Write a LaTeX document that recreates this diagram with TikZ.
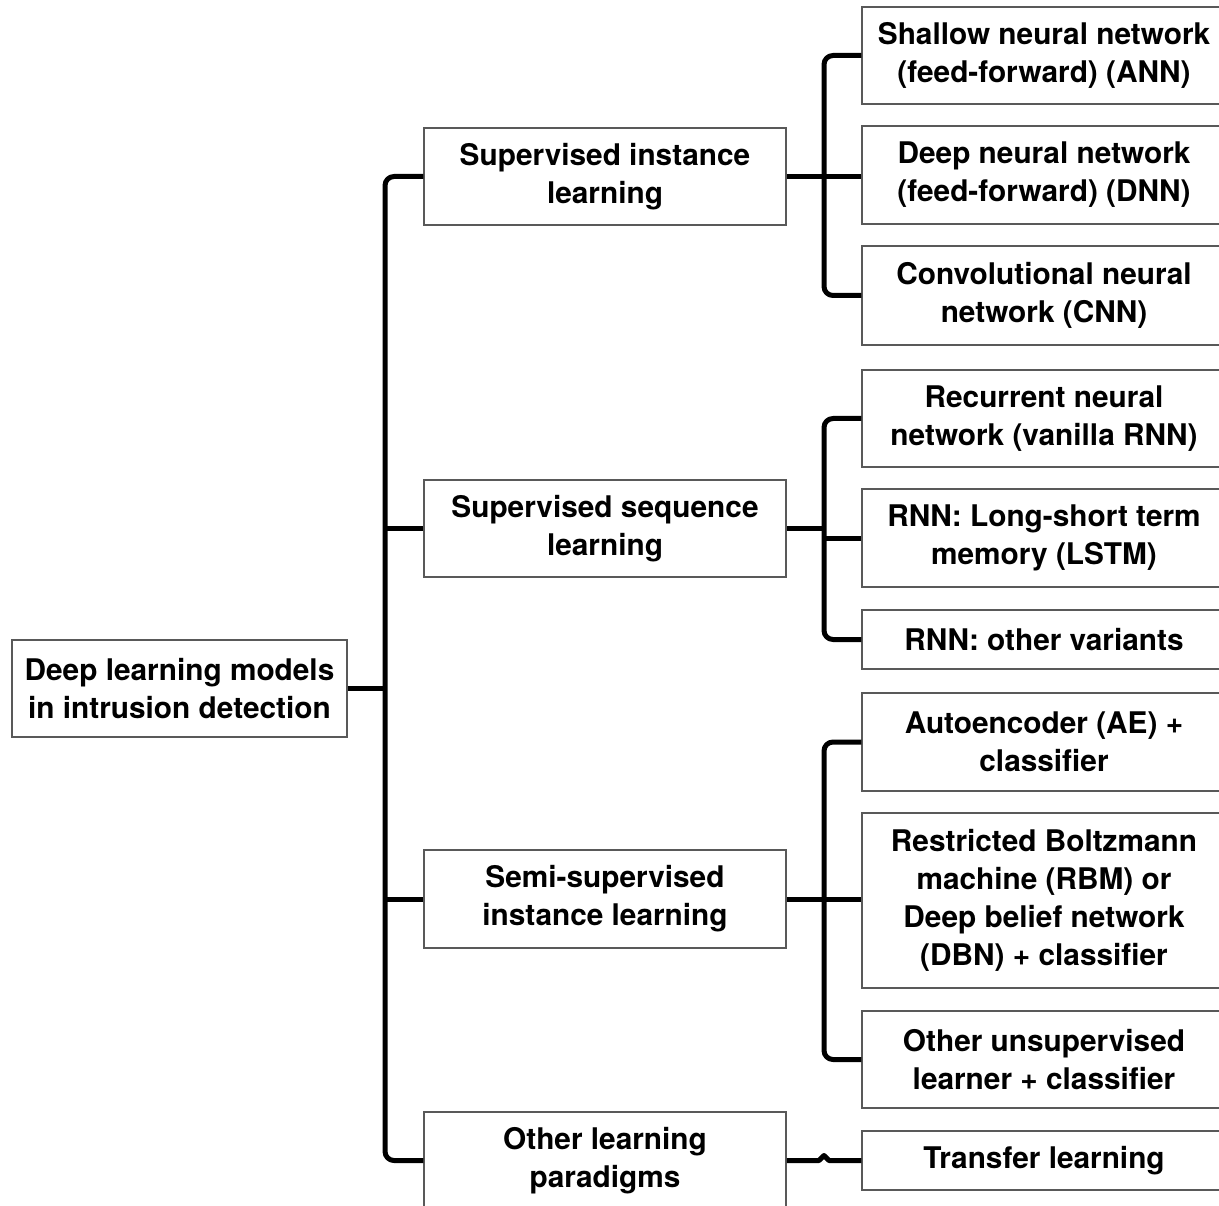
\documentclass[tikz,border=0pt]{standalone}
\usepackage{fontspec}
\setmainfont{TeX Gyre Heros}
\usetikzlibrary{calc}
\begin{document}
\begin{tikzpicture}[x=1pt,y=-1pt,
  box/.style={draw=black!65, line width=1.5pt, fill=white, align=center, inner sep=0pt,
    font=\fontsize{29.8}{38}\selectfont\bfseries},
  lone/.style={box, minimum width=362pt},
  leaf/.style={box, minimum width=364pt},
  conn/.style={line width=5pt, line join=round, line cap=butt, rounded corners=9pt}]
\clip (0,0) rectangle (1219,1206);
\fill[white] (0,0) rectangle (1219,1206);
\coordinate (t1) at (385,0);
\coordinate (t2) at (824,0);
% root
\node[box, minimum width=335pt, minimum height=97pt] (root) at (179.5,688.5) {Deep learning models\\in intrusion detection};
% level 1
\node[lone, minimum height=97pt] (sil) at (605,176.5) {Supervised instance\\learning};
\node[lone, minimum height=97pt] (ssl) at (605,528.5) {Supervised sequence\\learning};
\node[lone, minimum height=98pt] (ssi) at (605,899) {Semi-supervised\\instance learning};
\node[lone, minimum height=97pt] (olp) at (605,1160.5) {Other learning\\paradigms};
% leaves
\node[leaf, minimum height=97pt] (ann) at (1044,55.5) {Shallow neural network\\(feed-forward) (ANN)};
\node[leaf, minimum height=98pt] (dnn) at (1044,175) {Deep neural network\\(feed-forward) (DNN)};
\node[leaf, minimum height=99pt] (cnn) at (1044,295.5) {Convolutional neural\\network (CNN)};
\node[leaf, minimum height=97pt] (rnn) at (1044,418.5) {Recurrent neural\\network (vanilla RNN)};
\node[leaf, minimum height=98pt] (lstm) at (1044,538) {RNN: Long-short term\\memory (LSTM)};
\node[leaf, minimum height=59pt] (orv) at (1044,639.5) {RNN: other variants};
\node[leaf, minimum height=98pt] (ae) at (1044,742) {Autoencoder (AE) +\\classifier};
\node[leaf, minimum height=175pt] (rbm) at (1044,900.5) {Restricted Boltzmann\\machine (RBM) or\\Deep belief network\\(DBN) + classifier};
\node[leaf, minimum height=97pt] (ouc) at (1044,1059.5) {Other unsupervised\\learner + classifier};
\node[leaf, minimum height=59pt] (trf) at (1044,1160.5) {Transfer learning};
% level-1 connectors
\draw[conn] (sil.west) -- (sil.west -| t1) |- (olp.west);
\draw[conn] (root.east) -- (root.east -| t1);
\draw[conn] (ssl.west) -- (ssl.west -| t1);
\draw[conn] (ssi.west) -- (ssi.west -| t1);
% group 1
\draw[conn] (ann.west) -- (ann.west -| t2) |- (cnn.west);
\draw[conn] (sil.east) -- (sil.east -| dnn.west);
% group 2
\draw[conn] (rnn.west) -- (rnn.west -| t2) |- (orv.west);
\draw[conn] (ssl.east) -- (ssl.east -| t2);
\draw[conn] (lstm.west) -- (lstm.west -| t2);
% group 3
\draw[conn] (ae.west) -- (ae.west -| t2) |- (ouc.west);
\draw[conn] (ssi.east) -- (ssi.east -| rbm.west);
% other
\draw[conn, rounded corners=0pt] (olp.east) -- ($(olp.east -| t2)+(-5,0)$) -- ++(5,-5) -- ++(5,5) -- (olp.east -| trf.west);
\end{tikzpicture}
\end{document}
